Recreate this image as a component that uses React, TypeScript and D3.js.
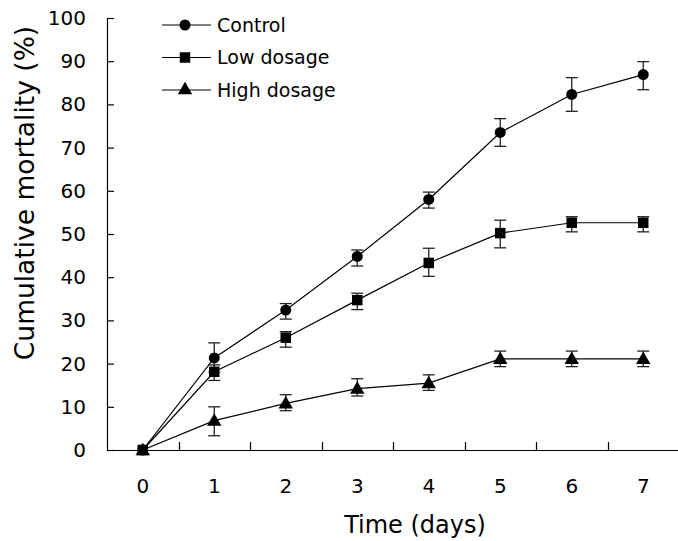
import { useEffect, useRef } from 'react';
import * as d3 from 'd3';

const days = [0, 1, 2, 3, 4, 5, 6, 7];

const controlMean = [0, 21.3, 32.4, 44.8, 58, 73.5, 82.3, 86.9];
const controlHi = [0, 24.8, 33.9, 46.3, 59.7, 76.7, 86.2, 89.9];
const controlLo = [0, 18.0, 30.3, 42.6, 56.0, 70.3, 78.4, 83.4];

const lowMean = [0, 18.1, 26.0, 34.7, 43.3, 50.2, 52.6, 52.6];
const lowHi = [0, 19.7, 27.4, 36.3, 46.7, 53.2, 54.0, 54.0];
const lowLo = [0, 16.1, 23.8, 32.5, 40.2, 46.8, 50.5, 50.5];

const highMean = [0, 6.8, 10.8, 14.2, 15.5, 21.1, 21.1, 21.1];
const highHi = [0, 10.0, 12.8, 16.5, 17.4, 22.9, 22.9, 22.9];
const highLo = [0, 3.3, 9.1, 12.5, 13.8, 19.3, 19.3, 19.3];

const seriesNames = ['Control', 'Low dosage', 'High dosage'];
const yTicks = [0, 10, 20, 30, 40, 50, 60, 70, 80, 90, 100];

const FONT = '"DejaVu Sans", Verdana, sans-serif';

export default function App() {
  const svgRef = useRef<SVGSVGElement | null>(null);

  useEffect(() => {
    const svg = d3.select(svgRef.current);
    svg.selectAll('*').remove();

    const x = d3.scaleBand<number>().domain(days).range([107, 679]).padding(0);
    const y = d3.scaleLinear().domain([0, 100]).range([450, 18]);
    const cx = (d: number) => (x(d) ?? 0) + x.bandwidth() / 2;

    const series = [
      { name: seriesNames[0], mean: controlMean, hi: controlHi, lo: controlLo, symbol: d3.symbolCircle, size: 95 },
      { name: seriesNames[1], mean: lowMean, hi: lowHi, lo: lowLo, symbol: d3.symbolSquare, size: 110 },
      { name: seriesNames[2], mean: highMean, hi: highHi, lo: highLo, symbol: d3.symbolTriangle, size: 90 },
    ];

    // axes
    const axis = svg.append('g').attr('stroke', '#000').attr('stroke-width', 1.2);
    axis.append('line')
      .attr('x1', 107.5).attr('x2', 107.5)
      .attr('y1', y(0)).attr('y2', y(100));
    axis.append('line')
      .attr('x1', 107).attr('x2', 679)
      .attr('y1', y(0) + 0.5).attr('y2', y(0) + 0.5);
    axis.selectAll('.yt').data(yTicks).join('line')
      .attr('x1', 107).attr('x2', 114)
      .attr('y1', d => y(d) + 0.5).attr('y2', d => y(d) + 0.5);
    axis.selectAll('.xt').data(days.slice(1)).join('line')
      .attr('x1', d => Math.round(x(d) ?? 0) + 0.5).attr('x2', d => Math.round(x(d) ?? 0) + 0.5)
      .attr('y1', y(0)).attr('y2', y(0) - 8);

    svg.append('g').selectAll('text').data(yTicks).join('text')
      .attr('x', 86).attr('y', d => y(d) + 7)
      .attr('text-anchor', 'end')
      .style('font-family', FONT).style('font-size', '20px')
      .text(d => d);

    svg.append('g').selectAll('text').data(days).join('text')
      .attr('x', d => cx(d)).attr('y', 493)
      .attr('text-anchor', 'middle')
      .style('font-family', FONT).style('font-size', '20px')
      .text(d => d);

    svg.append('text')
      .attr('x', 415).attr('y', 533)
      .attr('text-anchor', 'middle')
      .style('font-family', FONT).style('font-size', '24px')
      .text('Time (days)');

    svg.append('text')
      .attr('transform', 'translate(34,193) rotate(-90)')
      .attr('text-anchor', 'middle')
      .style('font-family', FONT).style('font-size', '26.5px')
      .text('Cumulative mortality (%)');

    const line = d3.line<number>().x((_, i) => cx(days[i])).y(d => y(d));

    series.forEach(s => {
      const g = svg.append('g');
      g.append('path')
        .attr('d', line(s.mean))
        .attr('fill', 'none').attr('stroke', '#000').attr('stroke-width', 1.2);

      const eb = g.append('g').attr('stroke', '#222').attr('stroke-width', 1.3);
      days.forEach((d, i) => {
        if (i === 0) return;
        const px = cx(d);
        eb.append('line').attr('x1', px).attr('x2', px).attr('y1', y(s.hi[i])).attr('y2', y(s.lo[i]));
        eb.append('line').attr('x1', px - 6).attr('x2', px + 6).attr('y1', y(s.hi[i])).attr('y2', y(s.hi[i]));
        eb.append('line').attr('x1', px - 6).attr('x2', px + 6).attr('y1', y(s.lo[i])).attr('y2', y(s.lo[i]));
      });

      g.selectAll('path.m').data(s.mean).join('path')
        .attr('class', 'm')
        .attr('transform', (d, i) => `translate(${cx(days[i])},${y(d) + (s.symbol === d3.symbolTriangle ? 1 : 0)})`)
        .attr('d', d3.symbol(s.symbol, s.size)())
        .attr('fill', '#000');
    });

    // legend
    const leg = svg.append('g');
    series.forEach((s, i) => {
      const ly = 25 + i * 32.5;
      leg.append('line')
        .attr('x1', 162).attr('x2', 211).attr('y1', ly).attr('y2', ly)
        .attr('stroke', '#000').attr('stroke-width', 1.2);
      leg.append('path')
        .attr('transform', `translate(185,${ly})`)
        .attr('d', d3.symbol(s.symbol, s.size)())
        .attr('fill', '#000');
      leg.append('text')
        .attr('x', 217).attr('y', ly + 6.5)
        .style('font-family', FONT).style('font-size', '19px')
        .text(s.name);
    });
  }, []);

  return (
    <svg ref={svgRef} width={678} height={541}
      style={{ position: 'absolute', left: 0, top: 0, background: '#fff' }} />
  );
}
